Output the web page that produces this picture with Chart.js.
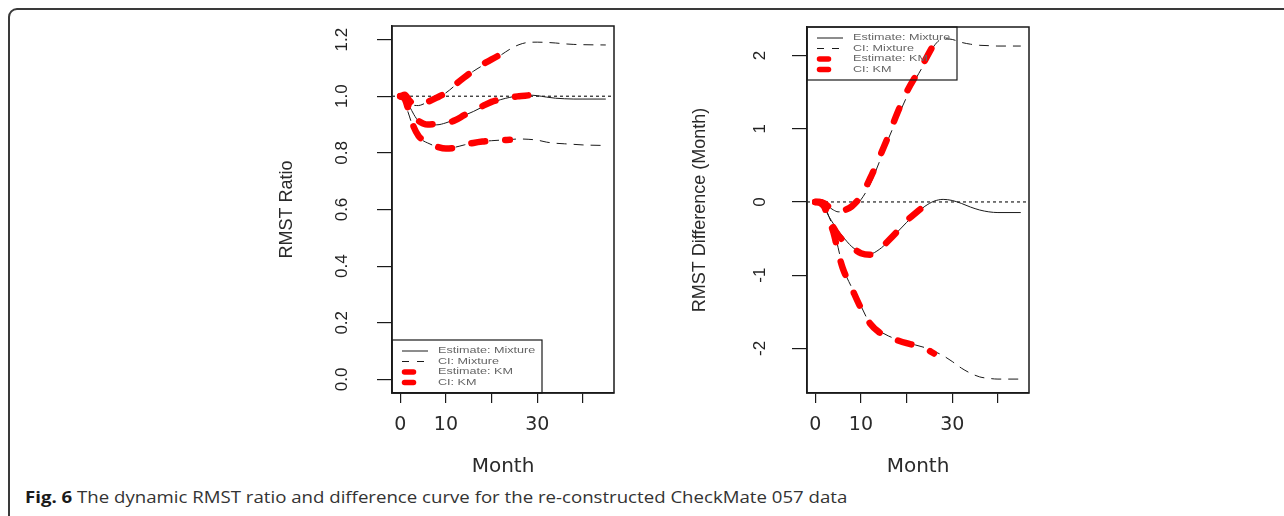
<!DOCTYPE html>
<html>
<head>
<meta charset="utf-8">
<script src="https://cdn.jsdelivr.net/npm/chart.js@4.4.1/dist/chart.umd.min.js"></script>
<style>
  html, body { margin: 0; padding: 0; background: #fff; }
  body { width: 1284px; height: 516px; position: relative; overflow: hidden; }
  .frame { position: absolute; left: 8px; top: 8px; width: 1320px; height: 560px;
           border: 2px solid #3a3a3a; border-radius: 9px; }
  .panel { position: absolute; top: 0; }
  #left { left: 250px; }
  #right { left: 660px; }
  .caption { position: absolute; left: 25px; top: 487px; line-height: 20px; transform-origin: left top;
             font-family: "Open Sans", sans-serif; font-size: 16.5px; color: #333; white-space: nowrap; }
  .caption b { color: #1a1a1a; }
</style>
</head>
<body>
<div class="frame"></div>
<canvas id="left" class="panel" width="400" height="480"></canvas>
<canvas id="right" class="panel" width="400" height="480"></canvas>
<div class="caption" id="caption"><b>Fig. 6</b> The dynamic RMST ratio and difference curve for the re-constructed CheckMate 057 data</div>

<script>
// x axis (months)
const xMin = -1.8, xMax = 46.8;
const xTicks = [0, 10, 20, 30, 40];
const xTickLabels = ["0", "10", "", "30", ""];

// mixture model curves
const mixMonths = [0, 1, 2, 3, 4, 5, 6, 8, 10, 12, 14, 16, 18, 20, 22, 24, 26, 28, 30, 32, 34, 36, 38, 40, 45];

const ratioEst = [1.0, 0.99, 0.965, 0.935, 0.912, 0.903, 0.899, 0.899, 0.906, 0.918, 0.932, 0.946, 0.962, 0.977, 0.988, 0.996, 1.002, 1.004, 1.002, 0.997, 0.993, 0.991, 0.99, 0.99, 0.99];
const ratioUpper = [1.0, 0.99, 0.975, 0.968, 0.967, 0.972, 0.98, 0.995, 1.012, 1.038, 1.064, 1.088, 1.108, 1.126, 1.145, 1.166, 1.182, 1.19, 1.191, 1.19, 1.188, 1.185, 1.183, 1.182, 1.181];
const ratioLower = [1.0, 0.975, 0.93, 0.88, 0.855, 0.843, 0.835, 0.822, 0.817, 0.82, 0.828, 0.835, 0.84, 0.843, 0.845, 0.847, 0.849, 0.848, 0.845, 0.838, 0.834, 0.832, 0.83, 0.828, 0.826];

const diffEst = [0, 0, -0.08, -0.2, -0.3, -0.39, -0.47, -0.61, -0.69, -0.71, -0.65, -0.54, -0.41, -0.28, -0.16, -0.06, 0.01, 0.035, 0.02, -0.02, -0.07, -0.11, -0.135, -0.145, -0.145];
const diffUpper = [0, 0, -0.03, -0.07, -0.11, -0.135, -0.135, -0.1, 0.03, 0.24, 0.54, 0.86, 1.15, 1.43, 1.68, 1.9, 2.13, 2.23, 2.22, 2.18, 2.155, 2.14, 2.135, 2.13, 2.13];
const diffLower = [0, -0.01, -0.05, -0.2, -0.36, -0.62, -0.88, -1.17, -1.42, -1.66, -1.76, -1.83, -1.88, -1.92, -1.955, -1.99, -2.04, -2.1, -2.18, -2.27, -2.34, -2.39, -2.41, -2.42, -2.42];

// KM curves (shorter follow-up)
const kmMonths = [0, 1, 2, 3, 4, 5, 6, 8, 10, 12, 14, 16, 18, 20, 22, 24, 26, 28];

const ratioKmEst = [1.0, 1.0, 0.96, 0.93, 0.913, 0.904, 0.9, 0.903, 0.905, 0.915, 0.933, 0.95, 0.965, 0.98, 0.989, 0.996, 1.0, 1.003];
const ratioKmUpper = [1.0, 1.005, 0.985, 0.972, 0.97, 0.974, 0.98, 0.995, 1.012, 1.04, 1.066, 1.09, 1.112, 1.13, 1.148, 1.168];
const ratioKmLower = [1.0, 0.99, 0.94, 0.89, 0.86, 0.845, 0.835, 0.822, 0.815, 0.818, 0.828, 0.835, 0.84, 0.843, 0.845, 0.846];

const diffKmEst = [0, 0, -0.05, -0.22, -0.35, -0.45, -0.52, -0.62, -0.7, -0.72, -0.65, -0.53, -0.4, -0.26, -0.15, -0.05, 0.03];
const diffKmUpper = [0, 0, -0.02, -0.07, -0.12, -0.13, -0.12, -0.06, 0.08, 0.32, 0.6, 0.9, 1.22, 1.5, 1.72, 1.93, 2.15, 2.26];
const diffKmLower = [0, -0.01, -0.07, -0.25, -0.42, -0.68, -0.9, -1.18, -1.45, -1.66, -1.78, -1.84, -1.89, -1.93, -1.96, -2.0, -2.07];

// y axes
const ratioTicks = [0, 0.2, 0.4, 0.6, 0.8, 1.0, 1.2];
const ratioTickLabels = ["0.0", "0.2", "0.4", "0.6", "0.8", "1.0", "1.2"];
const diffTicks = [-2, -1, 0, 1, 2];
const diffTickLabels = ["-2", "-1", "0", "1", "2"];

const legendLabels = ["Estimate: Mixture", "CI: Mixture", "Estimate: KM", "CI: KM"];

function pts(xs, ys) {
  return ys.map((y, i) => ({ x: xs[i], y: y }));
}

// box around the plot region, like R's box()
const plotBox = {
  id: "plotBox",
  beforeDatasetsDraw(chart) {
    const { ctx, chartArea: a } = chart;
    ctx.save();
    ctx.strokeStyle = "#1a1a1a";
    ctx.lineWidth = 1.5;
    ctx.strokeRect(a.left, a.top, a.right - a.left, a.bottom - a.top);
    ctx.restore();
  }
};

// R style legend drawn inside the plot region
const rLegend = {
  id: "rLegend",
  afterDraw(chart, args, opts) {
    const { ctx, chartArea: a } = chart;
    const w = 150, h = 53;
    const left = a.left;
    const top = opts.corner === "bottomleft" ? a.bottom - h : a.top;
    ctx.save();
    ctx.strokeStyle = "#1a1a1a";
    ctx.lineWidth = 1.2;
    ctx.strokeRect(left, top, w, h);
    legendLabels.forEach((label, i) => {
      const y = top + 11 + i * 10.5;
      ctx.beginPath();
      if (i < 2) {
        ctx.strokeStyle = "#1a1a1a";
        ctx.lineWidth = 1;
        ctx.setLineDash(i === 1 ? [7, 8] : []);
        ctx.moveTo(left + 10, y);
        ctx.lineTo(left + 36, y);
      } else {
        ctx.strokeStyle = "#ff0000";
        ctx.lineWidth = 5.5;
        ctx.lineCap = "round";
        ctx.setLineDash([]);
        ctx.moveTo(left + 12.5, y);
        ctx.lineTo(left + 21.5, y);
      }
      ctx.stroke();
      ctx.save();
      ctx.translate(left + 46, y);
      ctx.scale(1.4, 1);
      ctx.fillStyle = "#666";
      ctx.font = '9px "Liberation Sans"';
      ctx.textBaseline = "middle";
      ctx.fillText(label, 0, 0);
      ctx.restore();
    });
    ctx.restore();
  }
};

function makePanel(id, p) {
  const mix = { borderColor: "#1a1a1a", borderWidth: 1, cubicInterpolationMode: "monotone" };
  const km = { borderColor: "#ff0000", borderWidth: 6.5, borderDash: [14, 20], borderCapStyle: "round",
               cubicInterpolationMode: "monotone" };
  return new Chart(document.getElementById(id), {
    type: "line",
    data: {
      datasets: [
        Object.assign({ label: "KM est", data: pts(kmMonths, p.kmEst) }, km),
        Object.assign({ label: "KM upper", data: pts(kmMonths, p.kmUpper) }, km),
        Object.assign({ label: "KM lower", data: pts(kmMonths, p.kmLower) }, km),
        Object.assign({ label: "Mixture est", data: pts(mixMonths, p.est) }, mix),
        Object.assign({ label: "Mixture upper", data: pts(mixMonths, p.upper), borderDash: [10, 7] }, mix),
        Object.assign({ label: "Mixture lower", data: pts(mixMonths, p.lower), borderDash: [10, 7] }, mix),
        { label: "reference", data: pts([xMin, xMax], [p.ref, p.ref]), borderColor: "#222",
          borderWidth: 1.2, borderDash: [3, 3] }
      ]
    },
    options: {
      responsive: false,
      animation: false,
      events: [],
      elements: { point: { radius: 0 } },
      layout: { padding: { left: 0, top: p.area.top, right: 400 - p.area.right, bottom: 0 } },
      plugins: {
        legend: { display: false },
        tooltip: { enabled: false },
        rLegend: { corner: p.legendCorner }
      },
      scales: {
        x: {
          type: "linear",
          min: xMin,
          max: xMax,
          afterBuildTicks: (s) => { s.ticks = xTicks.map((v) => ({ value: v })); },
          afterFit: (s) => {
            s.height = 480 - p.area.bottom;
            s.paddingLeft = 0; s.paddingRight = 0;
          },
          grid: { drawOnChartArea: false, tickLength: 10, color: "#1a1a1a", lineWidth: 1.2 },
          border: { display: true, color: "#1a1a1a", width: 1.5 },
          ticks: {
            autoSkip: false,
            maxRotation: 0,
            padding: 11,
            color: "#2a2a2a",
            font: { family: "DejaVu Sans", size: 19 },
            callback: (v, i) => xTickLabels[i]
          },
          title: {
            display: true,
            text: "Month",
            color: "#2a2a2a",
            font: { family: "DejaVu Sans", size: 20 },
            padding: { top: 0, bottom: 1 }
          }
        },
        y: {
          type: "linear",
          min: p.yMin,
          max: p.yMax,
          afterBuildTicks: (s) => { s.ticks = p.ticks.map((v) => ({ value: v })); },
          afterFit: (s) => {
            s.width = p.area.left;
            s.paddingTop = 0; s.paddingBottom = 0;
          },
          grid: { drawOnChartArea: false, tickLength: 15, color: "#1a1a1a", lineWidth: 1.2 },
          border: { display: true, color: "#1a1a1a", width: 1.5 },
          ticks: {
            autoSkip: false,
            minRotation: 90,
            maxRotation: 90,
            crossAlign: "center",
            padding: p.labelPad,
            color: "#222",
            font: { family: "Liberation Sans", size: 17 },
            callback: (v, i) => p.tickLabels[i]
          },
          title: {
            display: true,
            text: p.yTitle,
            color: "#2a2a2a",
            font: { family: "Liberation Sans", size: 18 },
            padding: { top: p.titlePad, bottom: 0 }
          }
        }
      }
    },
    plugins: [plotBox, rLegend]
  });
}

makePanel("left", {
  est: ratioEst, upper: ratioUpper, lower: ratioLower,
  kmEst: ratioKmEst, kmUpper: ratioKmUpper, kmLower: ratioKmLower,
  ref: 1.0, yMin: -0.048, yMax: 1.248,
  ticks: ratioTicks, tickLabels: ratioTickLabels,
  yTitle: "RMST Ratio",
  area: { left: 142, top: 26, right: 364, bottom: 393 },
  labelPad: 22.5, titlePad: 26,
  legendCorner: "bottomleft"
});

makePanel("right", {
  est: diffEst, upper: diffUpper, lower: diffLower,
  kmEst: diffKmEst, kmUpper: diffKmUpper, kmLower: diffKmLower,
  ref: 0, yMin: -2.61, yMax: 2.39,
  ticks: diffTicks, tickLabels: diffTickLabels,
  yTitle: "RMST Difference (Month)",
  area: { left: 147, top: 27, right: 369, bottom: 393 },
  labelPad: 24.4, titlePad: 29,
  legendCorner: "topleft"
});

// the caption in the figure is a little wider than the font; stretch it to its span
const caption = document.getElementById("caption");
caption.style.transform = "scaleX(" + (822 / caption.offsetWidth) + ")";
</script>
</body>
</html>
